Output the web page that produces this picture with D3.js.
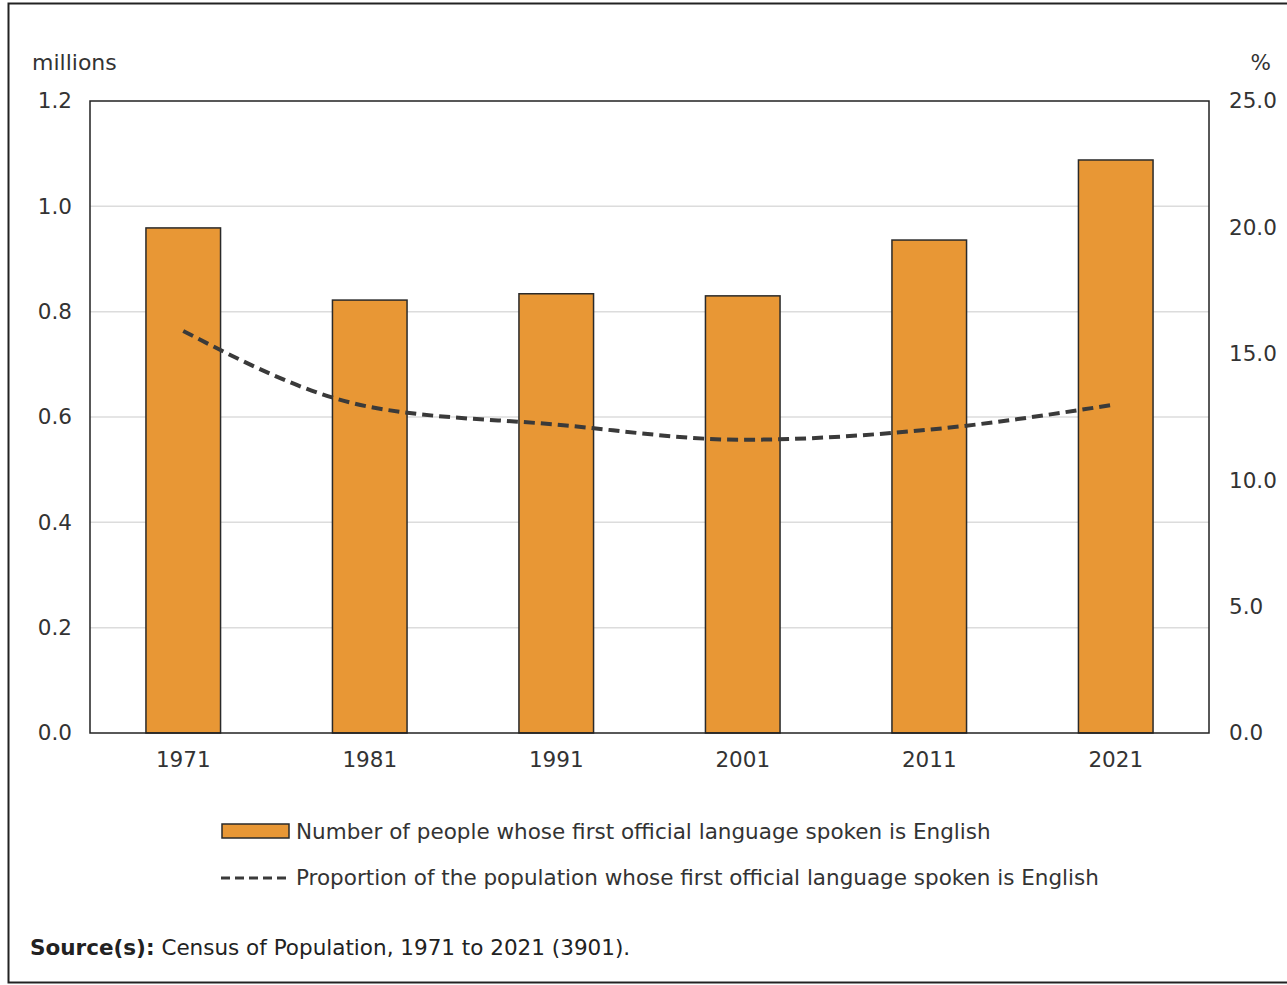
<!DOCTYPE html>
<html>
<head>
<meta charset="utf-8">
<script src="https://cdn.jsdelivr.net/npm/d3@7"></script>
<style>
  body { margin: 0; background: #fff; }
  svg { display: block; font-family: "DejaVu Sans", Verdana, sans-serif; }
</style>
</head>
<body>
<div id="chart"></div>
<script>
// data
const years = ['1971', '1981', '1991', '2001', '2011', '2021']
const peopleMillions = [0.959, 0.822, 0.834, 0.830, 0.936, 1.088]
const proportionPct = [15.9, 12.9, 12.2, 11.6, 12.0, 13.0]
const leftTicks = [0, 0.2, 0.4, 0.6, 0.8, 1.0, 1.2]
const rightTicks = [0, 5, 10, 15, 20, 25]
const legendLabels = [
  'Number of people whose first official language spoken is English',
  'Proportion of the population whose first official language spoken is English'
]

// set size
var W = 1287, H = 985
var plot = { left: 90, right: 1209, top: 101, bottom: 733 }
var fs = 21.5

var svg = d3.select('#chart').append('svg')
  .attr('width', W)
  .attr('height', H)

// outer frame
svg.append('rect')
  .attr('x', 8.5).attr('y', 3.5)
  .attr('width', 1300).attr('height', 979)
  .attr('fill', 'none')
  .attr('stroke', '#222')
  .attr('stroke-width', 2)

// scales
const x = d3.scaleBand()
  .domain(years)
  .range([plot.left, plot.right])
  .paddingInner(0.6)
  .paddingOuter(0.3)

const yLeft = d3.scaleLinear()
  .domain([0, 1.2])
  .range([plot.bottom, plot.top])

const yRight = d3.scaleLinear()
  .domain([0, 25])
  .range([plot.bottom, plot.top])

// gridlines
svg.append('g')
  .selectAll('line')
  .data(leftTicks.slice(1, -1))
  .join('line')
  .attr('x1', plot.left)
  .attr('x2', plot.right)
  .attr('y1', d => yLeft(d))
  .attr('y2', d => yLeft(d))
  .attr('stroke', '#dcdcdc')
  .attr('stroke-width', 1.5)

// bars
svg.append('g')
  .selectAll('rect')
  .data(peopleMillions)
  .join('rect')
  .attr('x', (d, i) => x(years[i]))
  .attr('y', d => yLeft(d))
  .attr('width', x.bandwidth())
  .attr('height', d => yLeft(0) - yLeft(d))
  .attr('fill', '#e89735')
  .attr('stroke', '#2a2a2a')
  .attr('stroke-width', 1.5)

// proportion line
const line = d3.line()
  .x((d, i) => x(years[i]) + x.bandwidth() / 2)
  .y(d => yRight(d))
  .curve(d3.curveMonotoneX)

svg.append('path')
  .datum(proportionPct)
  .attr('d', line)
  .attr('fill', 'none')
  .attr('stroke', '#3a3a3a')
  .attr('stroke-width', 4)
  .attr('stroke-dasharray', '11,6')

// plot border
svg.append('rect')
  .attr('x', plot.left).attr('y', plot.top)
  .attr('width', plot.right - plot.left)
  .attr('height', plot.bottom - plot.top)
  .attr('fill', 'none')
  .attr('stroke', '#222')
  .attr('stroke-width', 1.5)

// left axis
const leftAxis = svg.append('g')
  .attr('transform', 'translate(' + plot.left + ',0)')
  .call(d3.axisLeft(yLeft).tickValues(leftTicks).tickFormat(d3.format('.1f')).tickSize(0).tickPadding(18))
leftAxis.select('.domain').remove()
leftAxis.selectAll('text')
  .attr('font-size', fs).attr('fill', '#333')
  .attr('font-family', '"DejaVu Sans", Verdana, sans-serif')

// right axis
const rightAxis = svg.append('g')
  .attr('transform', 'translate(' + plot.right + ',0)')
  .call(d3.axisRight(yRight).tickValues(rightTicks).tickFormat(d3.format('.1f')).tickSize(0).tickPadding(20))
rightAxis.select('.domain').remove()
rightAxis.selectAll('text')
  .attr('font-size', fs).attr('fill', '#333')
  .attr('font-family', '"DejaVu Sans", Verdana, sans-serif')

// bottom axis
const bottomAxis = svg.append('g')
  .attr('transform', 'translate(0,' + plot.bottom + ')')
  .call(d3.axisBottom(x).tickSize(0).tickPadding(19))
bottomAxis.select('.domain').remove()
bottomAxis.selectAll('text')
  .attr('font-size', fs).attr('fill', '#333')
  .attr('font-family', '"DejaVu Sans", Verdana, sans-serif')

// axis unit labels
svg.append('text')
  .attr('x', 32).attr('y', 70)
  .attr('font-size', 22).attr('fill', '#333')
  .text('millions')

svg.append('text')
  .attr('x', 1271).attr('y', 70)
  .attr('text-anchor', 'end')
  .attr('font-size', fs).attr('fill', '#333')
  .text('%')

// legend
const legend = svg.append('g')
legend.append('rect')
  .attr('x', 222).attr('y', 824)
  .attr('width', 67).attr('height', 14)
  .attr('fill', '#e89735')
  .attr('stroke', '#2a2a2a')
  .attr('stroke-width', 1.5)
legend.append('line')
  .attr('x1', 221).attr('x2', 290)
  .attr('y1', 878).attr('y2', 878)
  .attr('stroke', '#3a3a3a')
  .attr('stroke-width', 3)
  .attr('stroke-dasharray', '9,5')
legend.selectAll('text')
  .data(legendLabels)
  .join('text')
  .attr('x', 296)
  .attr('y', (d, i) => 839 + i * 46)
  .attr('font-size', fs)
  .attr('fill', '#333')
  .text(d => d)

// source
const src = svg.append('text')
  .attr('x', 30).attr('y', 955)
  .attr('font-size', 21.5)
  .attr('fill', '#222')
src.append('tspan').attr('font-weight', 'bold').text('Source(s):')
src.append('tspan').text(' Census of Population, 1971 to 2021 (3901).')
</script>
</body>
</html>
